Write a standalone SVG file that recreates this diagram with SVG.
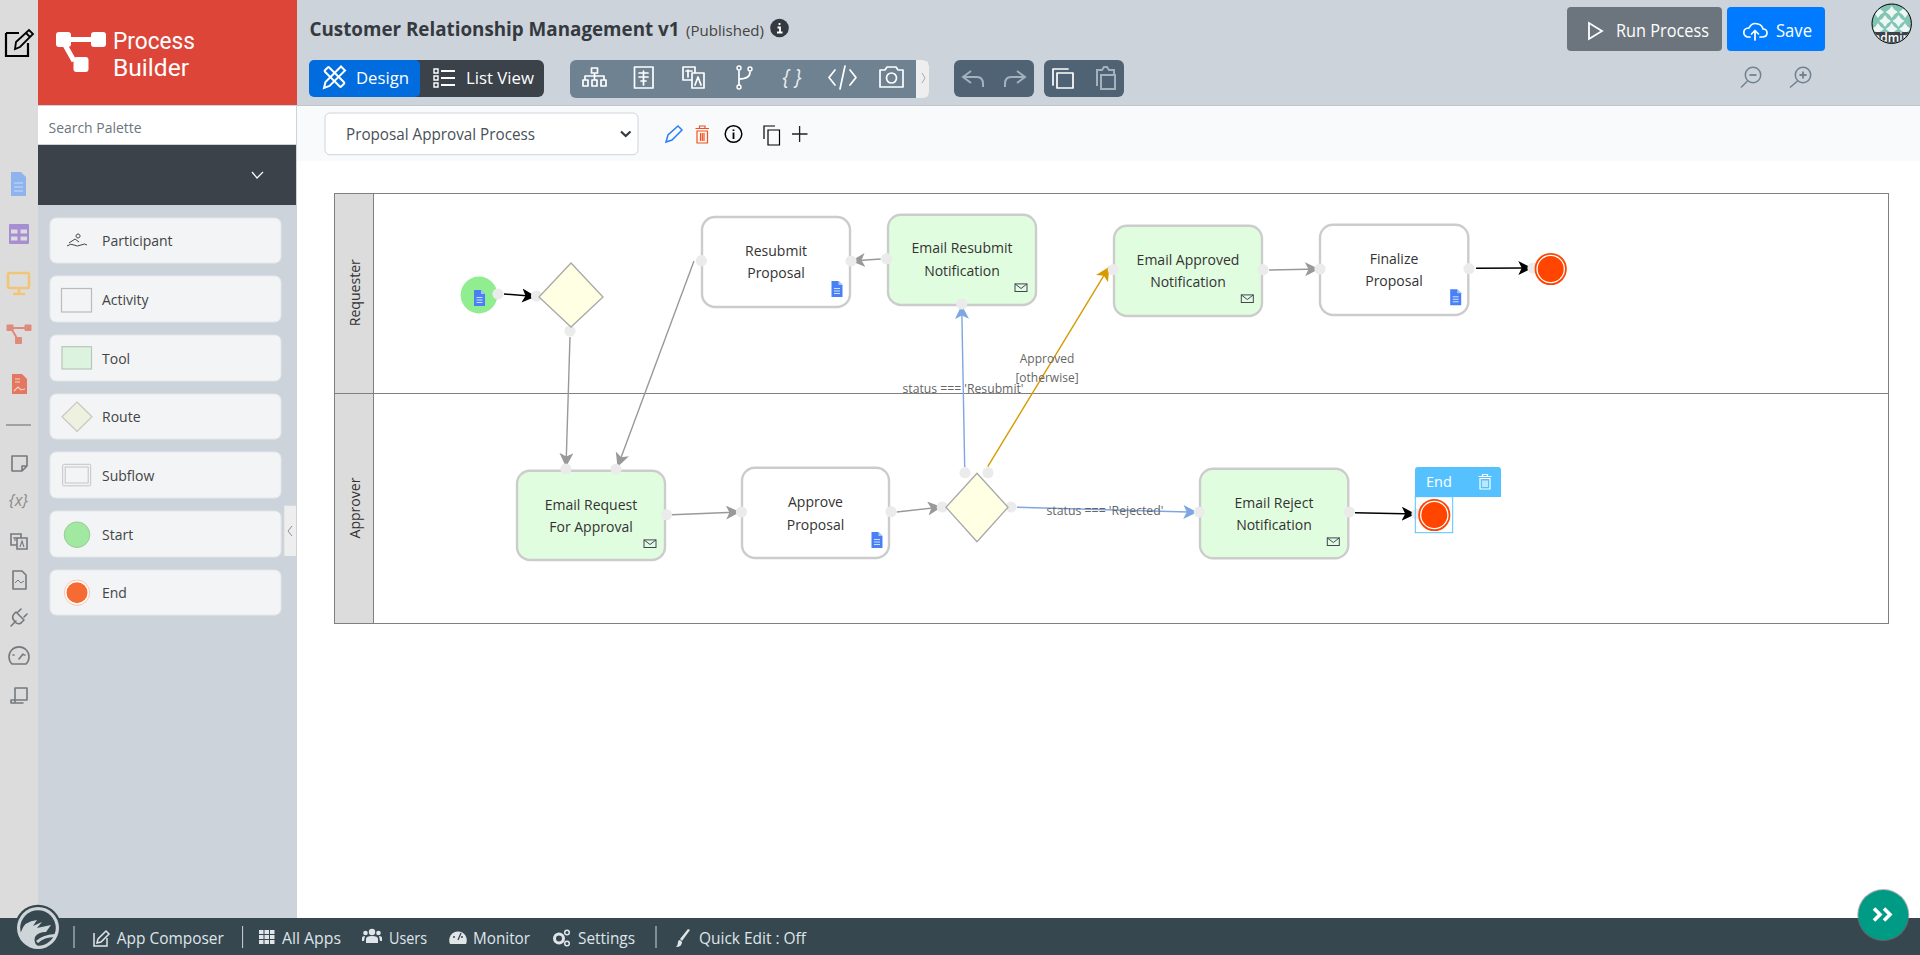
<svg xmlns="http://www.w3.org/2000/svg" width="1920" height="955" viewBox="0 0 1920 955">
<style>
text{font-family:"Open Sans","Noto Sans","Liberation Sans",sans-serif;}
.nt{font-size:14px;fill:#333;text-anchor:middle;dominant-baseline:central;transform:translateY(-0.8px);}
.box{stroke:#ccc;stroke-width:2.4;}
.act{fill:#fff;}
.tool{fill:#e1fde0;}
.port{fill:#ebebeb;}
.route{fill:#ffffe3;stroke:#a8a8a8;stroke-width:1.3;}
.lane{fill:#dcdcdc;stroke:#808080;stroke-width:1;}
.ll{font-size:14.5px;fill:#333;text-anchor:middle;dominant-baseline:central;}
.cl{font-size:12px;fill:#666;text-anchor:middle;dominant-baseline:central;}
.con{fill:none;stroke-width:1.4;}
.pi{fill:#f2f4f6;stroke:#e4e7ea;}
.pl{font-size:14px;fill:#444;dominant-baseline:central;}
.wi{fill:none;stroke:#fff;stroke-width:1.7;stroke-linecap:round;stroke-linejoin:round;}
.bt{font-size:16px;fill:#dfe5e9;dominant-baseline:central;}
.ri{fill:none;stroke:#75797d;stroke-width:1.6;stroke-linejoin:round;stroke-linecap:round;}
.bi{fill:#dfe5e9;}
</style>
<defs>
<marker id="mBlack" markerUnits="userSpaceOnUse" markerWidth="16" markerHeight="16" refX="14" refY="7" orient="auto"><path d="M0,0 L14,7 L0,14 L3.5,7Z" fill="#000"/></marker>
<marker id="mGrey" markerUnits="userSpaceOnUse" markerWidth="16" markerHeight="16" refX="14" refY="7" orient="auto"><path d="M0,0 L14,7 L0,14 L3.5,7Z" fill="#999"/></marker>
<marker id="mBlue" markerUnits="userSpaceOnUse" markerWidth="16" markerHeight="16" refX="14" refY="7" orient="auto"><path d="M0,0 L14,7 L0,14 L3.5,7Z" fill="#7ea6e0"/></marker>
<marker id="mGold" markerUnits="userSpaceOnUse" markerWidth="16" markerHeight="16" refX="14" refY="7" orient="auto"><path d="M0,0 L14,7 L0,14 L3.5,7Z" fill="#d79b00"/></marker>
<g id="doc"><path d="M-5.5,-8H1.5L5.5,-4V8H-5.5Z" fill="#4a80f5"/><path d="M1.5,-8L5.5,-4H1.5Z" fill="#a9c4fb"/><path d="M-3,-0.5H3M-3,2H3M-3,4.5H3" stroke="#cfe0ff" stroke-width="1"/></g>
<g id="env"><rect x="-6" y="-3.8" width="12" height="7.6" fill="none" stroke="#445" stroke-width="1"/><path d="M-6,-3.8L0,0.8L6,-3.8" fill="none" stroke="#445" stroke-width="1"/></g>
<g id="endc"><circle r="15.2" fill="#fff" stroke="#ff4500" stroke-width="1.8"/><circle r="13" fill="#ff4500"/></g>
<clipPath id="avc"><circle cx="1891.7" cy="23.7" r="19"/></clipPath>
<path id="star" d="M0,-6L2.5,-2.5L6,0L2.5,2.5L0,6L-2.5,2.5L-6,0L-2.500,-2.500Z" fill="#eef7f4"/>
</defs>

<rect width="1920" height="955" fill="#fff"/>
<g id="rail">
<rect x="0" y="0" width="38" height="918" fill="#dcdcdc"/>
<path d="M7,34H20M7,34V57H29V44" fill="none" stroke="#000" stroke-width="2.2" transform="translate(-1,-1)"/>
<path d="M15,49L16,42L29,30L33,34L20,47Z M26,33L30,37" fill="none" stroke="#000" stroke-width="1.8"/>
<path d="M11,172H21L26,177V196H11Z" fill="#8fb3ec"/><path d="M14,183H23M14,187H23M14,191H23" stroke="#c9dcf8" stroke-width="1.2"/>
<rect x="9" y="224" width="20" height="20" rx="1" fill="#a78ed3"/><path d="M11,231.500H17.500M20.500,231.500H27M11,238.500H17.500M20.500,238.500H27" stroke="#dcdcdc" stroke-width="4"/>
<rect x="8" y="273" width="21" height="15" rx="1.500" fill="none" stroke="#f0c674" stroke-width="2.600"/><path d="M19,288V293M13,294H25" stroke="#f0c674" stroke-width="2.600"/>
<g fill="#e08a7c"><rect x="6.500" y="324.500" width="7" height="6.500" rx="1"/><rect x="24.500" y="324.500" width="7" height="6.500" rx="1"/><rect x="15" y="337" width="7" height="7" rx="1"/></g><path d="M11,328H27M11,328L18,340" stroke="#e08a7c" stroke-width="2"/>
<path d="M12,374H22L27,379V394H12Z" fill="#e3775f"/><path d="M15,379H20M15,382H20M14,391L18,387L21,390L25,389" stroke="#f6d6cd" stroke-width="1.100" fill="none"/>
<path d="M6,425H31" stroke="#666" stroke-width="1"/>
<path class="ri" d="M12,456H27V466L22,471H12Z M22,471V466H27"/>
<text x="18.500" y="500" style="font-size:16px;font-style:italic;fill:#8a8a8a;text-anchor:middle;dominant-baseline:central">{x}</text>
<path d="M11,534H21V545H11Z" fill="#dcdcdc" stroke="#75797d" stroke-width="1.600"/><path d="M17,538H27V549H17Z" fill="#dcdcdc" stroke="#75797d" stroke-width="1.600"/><path d="M13,538H18M15,537V541M20,547L22,541L24,547" stroke="#75797d" fill="none" stroke-width="1.100"/>
<path class="ri" d="M13,571H22L26,575V589H13Z"/><path d="M15,583L18,580L21,583L24,581" stroke="#75797d" fill="none" stroke-width="1"/>
<path class="ri" d="M11,626L16,621M16,612L24,620L21,623Q18,625 15,622L13,619Q12,616 14,614ZM18,612L21,609M24,617L27,614"/>
<path class="ri" d="M12,664A10,10 0 1 1 26,664H12ZM19,659L23,654M13,655H14M24,655H25"/>
<path class="ri" d="M15,688H27V700H11V703H23M15,688V702"/>
</g>

<g id="sidebar">
<rect x="38" y="105" width="259" height="813" fill="#ccd3da"/>
<rect x="38" y="0" width="259" height="105" fill="#dd4539"/>
<g fill="#fff"><rect x="56" y="32" width="15" height="15" rx="3"/><rect x="91" y="32" width="15" height="15" rx="3"/><rect x="73.500" y="57" width="15" height="15" rx="3"/></g>
<path d="M68,39.500H92M65,45L74,61" stroke="#fff" stroke-width="5" fill="none"/>
<text x="113" y="41" style="font-family:Roboto,sans-serif;font-size:23px;fill:#fff;dominant-baseline:central" textLength="82" lengthAdjust="spacingAndGlyphs">Process</text>
<text x="113" y="68" style="font-family:Roboto,sans-serif;font-size:23px;fill:#fff;dominant-baseline:central" textLength="76" lengthAdjust="spacingAndGlyphs">Builder</text>
<rect x="38" y="106" width="258" height="38" fill="#fff"/>
<text x="48.500" y="127.500" style="font-size:14px;fill:#6c757d;dominant-baseline:central" textLength="93" lengthAdjust="spacingAndGlyphs">Search Palette</text>
<rect x="38" y="145" width="258" height="60" fill="#3b4249"/>
<path d="M252,172L257,178L263,172" fill="none" stroke="#fff" stroke-width="1.200"/>
<rect class="pi" x="50" y="218" width="231" height="45" rx="6"/>
<rect class="pi" x="50" y="276" width="231" height="46" rx="6"/>
<rect class="pi" x="50" y="335" width="231" height="46" rx="6"/>
<rect class="pi" x="50" y="394" width="231" height="45" rx="6"/>
<rect class="pi" x="50" y="452" width="231" height="46" rx="6"/>
<rect class="pi" x="50" y="511" width="231" height="46" rx="6"/>
<rect class="pi" x="50" y="570" width="231" height="45" rx="6"/>
<path d="M67,246Q71,243 74,245T81,245T87,245M69,243L75,239L79,242M78,238A2,2 0 1 1 78.100,238" fill="none" stroke="#444" stroke-width="1"/>
<rect x="61.500" y="288.500" width="30" height="23.500" fill="#f2f4f6" stroke="#bbb" stroke-width="1.200"/>
<rect x="62" y="346.700" width="29.500" height="22.300" fill="#dcf3df" stroke="#b9c6ba" stroke-width="1.200"/>
<path d="M77,402L92,416.700L77,431.400L62,416.700Z" fill="#eef1df" stroke="#c8c8bc" stroke-width="1.200"/>
<rect x="62.700" y="464.300" width="28" height="21.500" rx="1" fill="none" stroke="#c4c4c4" stroke-width="1"/><rect x="65.200" y="467" width="23" height="16" fill="none" stroke="#c4c4c4" stroke-width="1"/>
<circle cx="77" cy="534.700" r="12.800" fill="#a1e9a1" stroke="#90c090" stroke-width="0.800"/>
<circle cx="77" cy="592.700" r="12.600" fill="#fff" stroke="#f9b49a" stroke-width="0.800"/><circle cx="77" cy="592.700" r="10.500" fill="#f66a33"/>
<text class="pl" x="102" y="240.500">Participant</text>
<text class="pl" x="102" y="299.500">Activity</text>
<text class="pl" x="102" y="358.500">Tool</text>
<text class="pl" x="102" y="416.500">Route</text>
<text class="pl" x="102" y="475.500">Subflow</text>
<text class="pl" x="102" y="534.500">Start</text>
<text class="pl" x="102" y="592.500">End</text>
<rect x="284.300" y="505.700" width="11.700" height="50.300" fill="#eeeeee"/>
<path d="M292,526L288,531L292,536" fill="none" stroke="#8a9096" stroke-width="1"/>
</g>

<g id="topbar">
<rect x="297" y="0" width="1623" height="105" fill="#ccd3da"/>
<rect x="297" y="105" width="1623" height="1" fill="#c2c7cc"/>
<rect x="297" y="106" width="1623" height="55" fill="#f9fafc"/>
<text x="309.500" y="28.500" style="font-size:19px;font-weight:700;fill:#343a40;dominant-baseline:central" textLength="370" lengthAdjust="spacingAndGlyphs">Customer Relationship Management v1</text>
<text x="686" y="30" style="font-size:14.500px;fill:#444;dominant-baseline:central" textLength="78" lengthAdjust="spacingAndGlyphs">(Published)</text>
<circle cx="779.500" cy="28" r="9.300" fill="#343a40"/><path d="M779.500,23V25M777.500,27.500H780V32.500M777,32.500H782.500" stroke="#fff" stroke-width="1.800" fill="none"/>
<rect x="380" y="60" width="164" height="37" rx="6" fill="#3b4249"/>
<rect x="309" y="60" width="111" height="37" rx="5" fill="#006cdd"/>
<g fill="none" stroke="#fff" stroke-width="2"><rect x="323" y="74" width="23" height="6" rx="1" transform="rotate(45 334.500 77)"/><path d="M324,88L325.500,82L341,66.500L345,70.500L329.500,86Z"/></g>
<text x="356" y="77" style="font-size:17px;fill:#fff;dominant-baseline:central" textLength="53" lengthAdjust="spacingAndGlyphs">Design</text>
<path d="M434,69H438V73H434ZM434,76H438V80H434ZM434,83H438V87H434Z" fill="none" stroke="#fff" stroke-width="1.400"/><path d="M441,71H455M441,78H455M441,85H455" stroke="#fff" stroke-width="2"/>
<text x="466" y="77" style="font-size:17px;fill:#fff;dominant-baseline:central" textLength="68" lengthAdjust="spacingAndGlyphs">List View</text>
<rect x="570" y="60" width="359" height="38" rx="6" fill="#6f8292"/>
<path d="M916,60H923Q929,60 929,66V92Q929,98 923,98H916Z" fill="#eeeeee"/>
<path d="M922,73L925,78L922,83" fill="none" stroke="#aaa" stroke-width="1"/>
<path class="wi" d="M591.500,68H597.500V73H591.500ZM594.500,73V76M585,80V76H604V80M594.500,76V80M583,80H588V86H583ZM592,80H597V86H592ZM601,80H606V86H601Z"/>
<path class="wi" d="M634.500,67H653V88H634.500ZM639,73H648M639,77H648M641,81H646M643.500,71V85"/>
<path class="wi" d="M683,67H695V80H683ZM686,71H692M688,70V77"/><path class="wi" d="M692,73H704V88H692ZM695,85L698,77L701,85" style="fill:#6f8292"/>
<path class="wi" d="M739,71V85M750,72Q750,79 739,79"/><circle cx="739" cy="68" r="2" fill="none" stroke="#fff" stroke-width="1.400"/><circle cx="739" cy="87" r="2" fill="none" stroke="#fff" stroke-width="1.400"/><circle cx="750" cy="69" r="2" fill="none" stroke="#fff" stroke-width="1.400"/>
<text x="792" y="77" style="font-size:21px;font-style:italic;fill:#e8edf1;text-anchor:middle;dominant-baseline:central" textLength="19" lengthAdjust="spacingAndGlyphs">{ }</text>
<path class="wi" d="M835,70L829,77.500L835,85M850,70L856,77.500L850,85M845,66L840,89"/>
<path class="wi" d="M880,70H885L887,67H896L898,70H903V87H880Z"/><circle cx="891.500" cy="78" r="5" fill="none" stroke="#fff" stroke-width="1.700"/>
<rect x="954" y="60" width="80" height="37" rx="6" fill="#4f6375"/>
<path d="M971,71L963,77L971,83M964,77H977Q983,77 983,84V87" fill="none" stroke="#a5b1bb" stroke-width="2"/>
<path d="M1017,71L1025,77L1017,83M1024,77H1011Q1005,77 1005,84V87" fill="none" stroke="#a5b1bb" stroke-width="2"/>
<rect x="1044" y="60" width="80" height="37" rx="6" fill="#4f6375"/>
<path class="wi" d="M1053,85V69H1068M1057,73H1073V88H1057Z" stroke-width="2"/>
<path d="M1097,86V70H1102L1104,67H1107L1109,70H1114V75M1101,75H1115V89H1101Z" fill="none" stroke="#a5b1bb" stroke-width="2"/>
<rect x="325" y="113" width="313" height="41.700" rx="5" fill="#fff" stroke="#ced4da"/>
<text x="346" y="134" style="font-size:16px;fill:#495057;dominant-baseline:central" textLength="189" lengthAdjust="spacingAndGlyphs">Proposal Approval Process</text>
<path d="M621,131.500L625.700,136L630.500,131.500" fill="none" stroke="#343a40" stroke-width="2.200"/>
<path d="M666,142L668,135L678,126L682,130L672,140Z" fill="none" stroke="#2a7ff7" stroke-width="1.500"/>
<path d="M697,131H707.500V143H697ZM695.500,128.500H709M699.500,128.500V126H705V128.500M700.500,133V141M702.300,133V141M704,133V141" fill="none" stroke="#f4511e" stroke-width="1.200"/>
<circle cx="733.500" cy="134" r="8.300" fill="none" stroke="#000" stroke-width="1.500"/><path d="M733.500,129.500V131M733.500,132.500V139" stroke="#000" stroke-width="1.800"/>
<path d="M764,139V126H775M768,130H779.500V145H768Z" fill="none" stroke="#000" stroke-width="1.200"/>
<path d="M799.600,126V142M792,134H807.500" stroke="#222" stroke-width="1.300"/>
<rect x="1567" y="7" width="155" height="44" rx="4" fill="#6c757d"/>
<path d="M1589,23V39L1602,31Z" fill="none" stroke="#fff" stroke-width="1.800"/>
<text x="1616" y="29.500" style="font-size:18px;fill:#fff;dominant-baseline:central" textLength="93" lengthAdjust="spacingAndGlyphs">Run Process</text>
<rect x="1727" y="7" width="98" height="44" rx="4" fill="#007bff"/>
<path class="wi" d="M1750,37H1747Q1743,35 1744,31Q1745,28 1749,28Q1752,22 1758,24Q1762,25 1763,29Q1767,29 1767,33Q1767,37 1762,37H1760M1755,40V31M1751.500,34L1755,30.500L1758.500,34"/>
<text x="1776" y="29.500" style="font-size:18px;fill:#fff;dominant-baseline:central" textLength="36" lengthAdjust="spacingAndGlyphs">Save</text>
<circle cx="1753" cy="75" r="7.700" fill="none" stroke="#6f8292" stroke-width="1.500"/><path d="M1747.500,81L1741,87.500" stroke="#6f8292" stroke-width="1.500"/><path d="M1749.500,75H1756.500" stroke="#6f8292" stroke-width="1.800"/>
<circle cx="1803" cy="75" r="7.700" fill="none" stroke="#6f8292" stroke-width="1.500"/><path d="M1797.500,81L1790,87.500" stroke="#6f8292" stroke-width="1.500"/><path d="M1799.500,75H1806.500M1803,71.500V78.500" stroke="#6f8292" stroke-width="1.800"/>
</g>

<g id="avatar">
<circle cx="1891.700" cy="23.700" r="19.700" fill="#83c5b5" stroke="#000" stroke-width="1"/>
<g clip-path="url(#avc)">
<use href="#star" x="1885" y="21"/><use href="#star" x="1898.500" y="21"/><use href="#star" x="1891.700" y="12"/><use href="#star" x="1891.700" y="29"/><use href="#star" x="1878" y="12"/><use href="#star" x="1905" y="12"/><use href="#star" x="1878" y="29"/><use href="#star" x="1905" y="29"/>
<rect x="1871" y="32" width="42" height="12" fill="#3b4249"/>
<text x="1891.700" y="37.500" style="font-size:12px;font-weight:600;fill:#fff;text-anchor:middle;dominant-baseline:central">admin</text>
</g>
</g>

<g id="lanes">
<rect x="334.500" y="193.500" width="1554" height="430" fill="#fff" stroke="#808080" stroke-width="1"/>
<rect class="lane" x="334.500" y="193.500" width="39" height="200"/>
<rect class="lane" x="334.500" y="393.500" width="39" height="230"/>
<path d="M373.500,393.500H1888.500" stroke="#808080" stroke-width="1"/>
<text class="ll" transform="translate(354.300,292.700) rotate(-90)" textLength="67" lengthAdjust="spacingAndGlyphs">Requester</text>
<text class="ll" transform="translate(354.300,508) rotate(-90)" textLength="61" lengthAdjust="spacingAndGlyphs">Approver</text>
</g>

<g id="connectors">
<path class="con" d="M504,294L536,296.500" stroke="#000" marker-end="url(#mBlack)"/>
<path class="con" d="M570,337L566,467" stroke="#999" marker-end="url(#mGrey)"/>
<path class="con" d="M694,261L617.500,467" stroke="#999" marker-end="url(#mGrey)"/>
<path class="con" d="M672,514.700L740,512" stroke="#999" marker-end="url(#mGrey)"/>
<path class="con" d="M896.700,512L941.700,507" stroke="#999" marker-end="url(#mGrey)"/>
<path class="con" d="M964.700,467.300L961.700,305" stroke="#7ea6e0" marker-end="url(#mBlue)"/>
<path class="con" d="M987.700,466.700L1109.300,266.700" stroke="#d79b00" marker-end="url(#mGold)"/>
<path class="con" d="M1017,507.300L1197.300,512.300" stroke="#7ea6e0" marker-end="url(#mBlue)"/>
<path class="con" d="M880.700,259L851,261" stroke="#999" marker-end="url(#mGrey)"/>
<path class="con" d="M1269,270L1319,269" stroke="#999" marker-end="url(#mGrey)"/>
<path class="con" d="M1476,268.300L1532.300,268" stroke="#000" marker-end="url(#mBlack)"/>
<path class="con" d="M1355,512.700L1415.700,514" stroke="#000" marker-end="url(#mBlack)"/>
<text class="cl" x="963" y="388.700" textLength="121" lengthAdjust="spacingAndGlyphs">status === 'Resubmit'</text>
<text class="cl" x="1047" y="358.700">Approved</text>
<text class="cl" x="1047" y="377.700">[otherwise]</text>
<text class="cl" x="1105" y="510.700" textLength="117" lengthAdjust="spacingAndGlyphs">status === 'Rejected'</text>
</g>

<g id="node-start">
<circle cx="479" cy="295" r="18.400" fill="#90ee90"/>
<use href="#doc" x="479.500" y="298"/>
<circle class="port" cx="498" cy="294" r="5.600"/>
</g>
<g id="node-route1">
<circle class="port" cx="536.500" cy="296" r="5.600"/>
<circle class="port" cx="570" cy="331" r="5.600"/>
<path class="route" d="M571,263L603,297L571,327L539,297Z"/>
</g>
<g id="node-resubmit">
<rect class="box act" x="702" y="217" width="148" height="90" rx="13"/>
<text class="nt" x="776" y="251">Resubmit</text>
<text class="nt" x="776" y="273.500">Proposal</text>
<use href="#doc" x="837" y="289"/>
<circle class="port" cx="701.400" cy="260.700" r="5.600"/><circle class="port" cx="851" cy="261" r="5.600"/>
</g>
<g id="node-email-resubmit">
<rect class="box tool" x="888" y="214.700" width="148" height="90.300" rx="13"/>
<text class="nt" x="962" y="248.700">Email Resubmit</text>
<text class="nt" x="962" y="271.700">Notification</text>
<use href="#env" x="1021" y="287.700"/>
<circle class="port" cx="886.700" cy="258.700" r="5.600"/><circle class="port" cx="961.700" cy="304" r="5.600"/>
</g>
<g id="node-email-approved">
<rect class="box tool" x="1114" y="225.700" width="148" height="90.300" rx="13"/>
<text class="nt" x="1188" y="260.700">Email Approved</text>
<text class="nt" x="1188" y="282.700">Notification</text>
<use href="#env" x="1247.300" y="298.700"/>
<circle class="port" cx="1113.300" cy="269.700" r="5.600"/><circle class="port" cx="1263" cy="269.700" r="5.600"/>
</g>
<g id="node-finalize">
<rect class="box act" x="1320" y="224.700" width="148.300" height="90.300" rx="13"/>
<text class="nt" x="1394" y="259">Finalize</text>
<text class="nt" x="1394" y="281.700">Proposal</text>
<use href="#doc" x="1455.700" y="297.300"/>
<circle class="port" cx="1320" cy="269" r="5.600"/><circle class="port" cx="1469" cy="268.700" r="5.600"/>
</g>
<g id="node-end1">
<circle class="port" cx="1533" cy="268" r="5.600"/>
<use href="#endc" x="1550.700" y="269"/>
</g>
<g id="node-email-request">
<rect class="box tool" x="517" y="470.700" width="148" height="89.300" rx="13"/>
<text class="nt" x="591" y="505">Email Request</text>
<text class="nt" x="591" y="527.700">For Approval</text>
<use href="#env" x="650" y="543.700"/>
<circle class="port" cx="566" cy="469" r="5.600"/><circle class="port" cx="616" cy="469.300" r="5.600"/><circle class="port" cx="666.400" cy="514.700" r="5.600"/>
</g>
<g id="node-approve">
<rect class="box act" x="742" y="467.700" width="147" height="90.300" rx="13"/>
<text class="nt" x="815.500" y="502">Approve</text>
<text class="nt" x="815.500" y="525">Proposal</text>
<use href="#doc" x="877" y="540"/>
<circle class="port" cx="741.500" cy="512" r="5.600"/><circle class="port" cx="891" cy="511.700" r="5.600"/>
</g>
<g id="node-route2">
<circle class="port" cx="942.300" cy="507" r="5.600"/><circle class="port" cx="965" cy="472.700" r="5.600"/><circle class="port" cx="988" cy="472.700" r="5.600"/><circle class="port" cx="1011" cy="507" r="5.600"/>
<path class="route" d="M977,473.300L1008,507.300L977,541.700L946,507.300Z"/>
</g>
<g id="node-email-reject">
<rect class="box tool" x="1200" y="468.700" width="148.300" height="89.600" rx="13"/>
<text class="nt" x="1274" y="503">Email Reject</text>
<text class="nt" x="1274" y="525">Notification</text>
<use href="#env" x="1333.300" y="541.700"/>
<circle class="port" cx="1199.300" cy="512" r="5.600"/><circle class="port" cx="1349.300" cy="512" r="5.600"/>
</g>
<g id="node-end2">
<circle class="port" cx="1417" cy="514" r="5.600"/>
<use href="#endc" x="1434.300" y="515"/>
<rect x="1415.300" y="496.700" width="37.400" height="36" fill="none" stroke="#55c2ff" stroke-width="1"/>
<path d="M1415,470Q1415,467 1418,467H1498Q1501,467 1501,470V497H1415Z" fill="#55c2ff"/>
<text x="1426" y="481.500" style="font-size:14.500px;fill:#fff;dominant-baseline:central">End</text>
<path d="M1480,478.500H1490V489H1480ZM1478.500,476.500H1491.500M1482.500,476.500V474.500H1487.500V476.500M1483,480.500V487M1485,480.500V487M1487,480.500V487" fill="none" stroke="#fff" stroke-width="1.200"/>
</g>

<g id="bottombar">
<rect x="0" y="918" width="1920" height="37" fill="#37474f"/>
<circle cx="38" cy="928" r="23.300" fill="#37474f"/>
<circle cx="38" cy="928" r="21" fill="#cdd5d9"/>
<circle cx="38" cy="928" r="17.800" fill="#37474f"/>
<path d="M21,932Q24,921 37,920L33,926L42,922L37,928L51,925L46,932Q38,932 35,937Q33,943 39,947Q24,947 20,934ZM36,941Q42,935 55,934L55,937Q44,937 38,943Z" fill="#cdd5d9"/>
<path d="M74,926V948M242.600,926V948M656,926V948" stroke="#cfd6da" stroke-width="1"/>
<path d="M94,933V946H107V938M97,943L98,939L106,931L109,934L101,942Z" fill="none" stroke="#dfe5e9" stroke-width="1.500"/>
<text class="bt" x="116.800" y="937.800" textLength="107" lengthAdjust="spacingAndGlyphs">App Composer</text>
<path class="bi" d="M259,930h4.500v4h-4.500zM264.500,930h4.500v4h-4.500zM270,930h4.500v4h-4.500zM259,935h4.500v4h-4.500zM264.500,935h4.500v4h-4.500zM270,935h4.500v4h-4.500zM259,940h4.500v4h-4.500zM264.500,940h4.500v4h-4.500zM270,940h4.500v4h-4.500z"/>
<text class="bt" x="282" y="937.800" textLength="59" lengthAdjust="spacingAndGlyphs">All Apps</text>
<circle class="bi" cx="372" cy="932" r="3.200"/><circle class="bi" cx="365.500" cy="933" r="2.300"/><circle class="bi" cx="378.500" cy="933" r="2.300"/><path class="bi" d="M366,943V939Q366,936 372,936Q378,936 378,939V943ZM362,941V938Q362,936 365,936L364,941ZM382,941V938Q382,936 379,936L380,941Z"/>
<text class="bt" x="389" y="937.800" textLength="38" lengthAdjust="spacingAndGlyphs">Users</text>
<path class="bi" d="M450,944A8.800,8.800 0 1 1 466,944Z"/><path d="M458,940L461,933M453,937H455M461,937H463" stroke="#37474f" stroke-width="1.300"/>
<text class="bt" x="473" y="937.800" textLength="57" lengthAdjust="spacingAndGlyphs">Monitor</text>
<circle cx="559" cy="938.500" r="4.500" fill="none" stroke="#dfe5e9" stroke-width="3"/><circle cx="567" cy="932.500" r="2.300" fill="none" stroke="#dfe5e9" stroke-width="1.500"/><circle cx="567" cy="943.500" r="2.300" fill="none" stroke="#dfe5e9" stroke-width="1.500"/>
<text class="bt" x="578" y="937.800" textLength="57" lengthAdjust="spacingAndGlyphs">Settings</text>
<path class="bi" d="M688,929L690,930L682,941L680,939ZM680,940L682,942Q682,947 676,947Q678,945 678,942Q678,940 680,940Z"/>
<text class="bt" x="699" y="937.800" textLength="107" lengthAdjust="spacingAndGlyphs">Quick Edit : Off</text>
</g>

<g id="fab">
<circle cx="1883.300" cy="915" r="26" fill="#7c7c7c" opacity="0.600"/>
<circle cx="1883.300" cy="915" r="25" fill="#009b85"/>
<path d="M1874,908.500L1880,914.500L1874,920.500M1884,908.500L1890,914.500L1884,920.500" fill="none" stroke="#fff" stroke-width="3.600"/>
</g>
</svg>
